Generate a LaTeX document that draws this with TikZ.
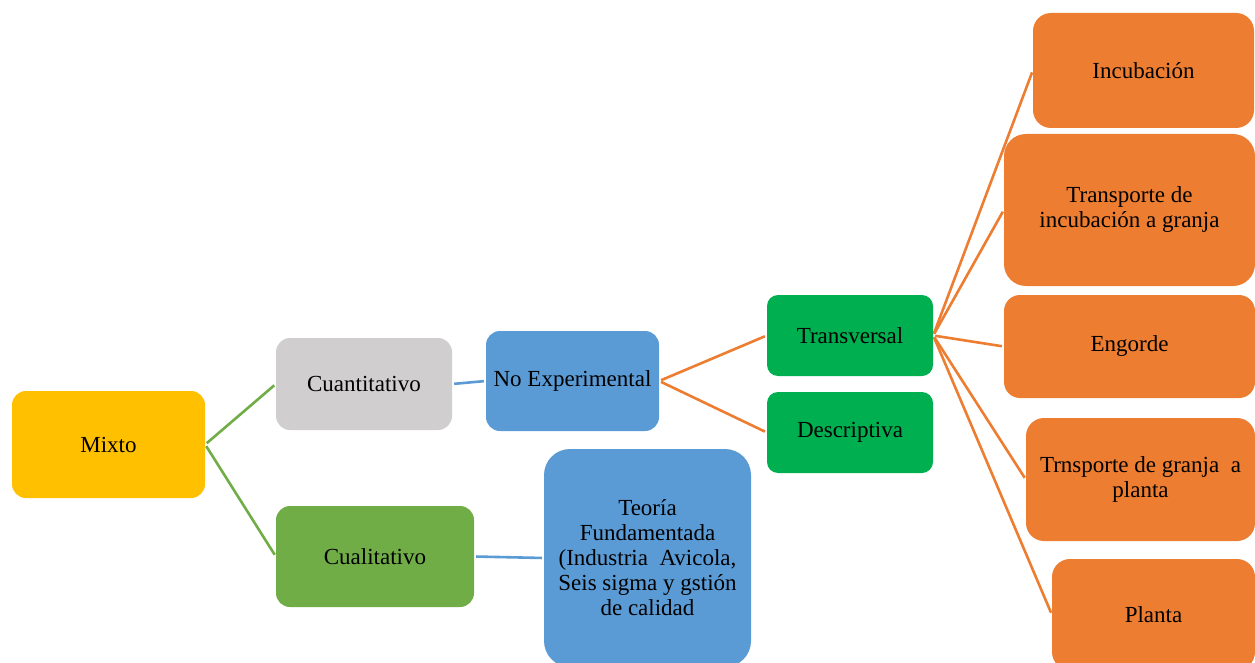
\documentclass[tikz,border=0pt]{standalone}
\usepackage{fontspec}
\setmainfont{Liberation Serif}
\definecolor{cYellow}{HTML}{FFC000}
\definecolor{cGrey}{HTML}{D0CECE}
\definecolor{cLeaf}{HTML}{70AD47}
\definecolor{cBlue}{HTML}{5B9BD5}
\definecolor{cGreen}{HTML}{00B050}
\definecolor{cOrange}{HTML}{ED7D31}
\begin{document}
\begin{tikzpicture}[x=1pt,y=-1pt,
  box/.style={draw=none, rounded corners=14pt, align=center, inner sep=0pt,
    font=\fontsize{23}{25}\selectfont, text=black},
  link/.style={line width=2.6pt, shorten <=2pt, shorten >=2pt}]
\useasboundingbox (0,0) rectangle (1255,663);
\clip (0,0) rectangle (1255,663);

% first level
\node[box, fill=cYellow, minimum width=193pt, minimum height=107pt] (mixto) at (108.5,444.5) {Mixto};
\node[box, fill=cGrey, minimum width=176pt, minimum height=92pt] (cuanti) at (364,384) {Cuantitativo};
\node[box, fill=cLeaf, minimum width=198pt, minimum height=101pt] (cuali) at (375,556.5) {Cualitativo};

% design boxes
\node[box, fill=cBlue, minimum width=173pt, minimum height=100pt] (noexp) at (572.5,381) {No Experimental};
\node[box, fill=cBlue, rounded corners=26pt, minimum width=207pt, minimum height=218pt] (teoria) at (647.5,558)
  {Teoría\\Fundamentada\\(Industria\ \ Avicola,\\Seis sigma y gstión\\de calidad};

% scope of the study
\node[box, fill=cGreen, rounded corners=11pt, minimum width=166pt, minimum height=81pt] (transv) at (850,335.5) {Transversal};
\node[box, fill=cGreen, rounded corners=11pt, minimum width=166pt, minimum height=81pt] (descr) at (850,432.5) {Descriptiva};

% stages of the chain
\node[box, fill=cOrange, rounded corners=18pt, minimum width=221pt, minimum height=115pt] (incub) at (1143.5,70.5) {Incubación};
\node[box, fill=cOrange, rounded corners=22pt, minimum width=251pt, minimum height=152pt] (transp) at (1129.5,210) {Transporte de\\incubación a granja};
\node[box, fill=cOrange, rounded corners=16pt, minimum width=251pt, minimum height=103pt] (engorde) at (1129.5,346.5) {Engorde};
\node[box, fill=cOrange, rounded corners=18pt, minimum width=229pt, minimum height=123pt] (trnsp) at (1140.5,479.5) {Trnsporte de granja\ \ a\\planta};
\node[box, fill=cOrange, rounded corners=18pt, minimum width=203pt, minimum height=111pt] (planta) at (1153.5,614.5) {Planta};

% connectors
\draw[link, cLeaf] (mixto.east) -- (cuanti.west);
\draw[link, cLeaf] (mixto.east) -- (cuali.west);
\draw[link, cBlue] (cuanti.east) -- (noexp.west);
\draw[link, cBlue] (cuali.east) -- (teoria.west);
\draw[link, cOrange] (noexp.east) -- (transv.west);
\draw[link, cOrange] (noexp.east) -- (descr.west);
\foreach \t in {incub, transp, engorde, trnsp, planta}
  \draw[link, cOrange] (transv.east) -- (\t.west);
\end{tikzpicture}
\end{document}
